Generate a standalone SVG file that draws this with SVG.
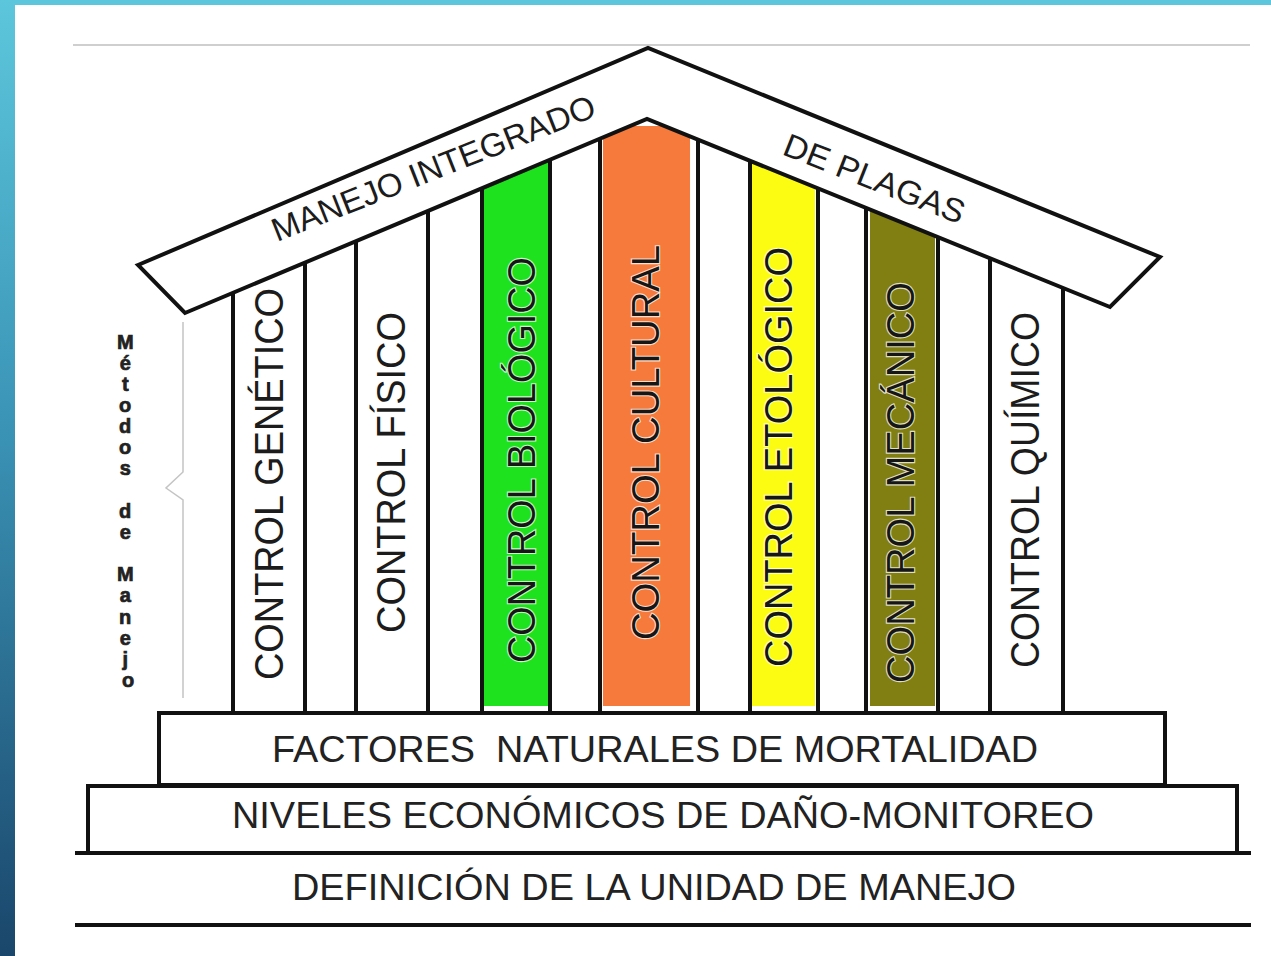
<svg xmlns="http://www.w3.org/2000/svg" width="1271" height="956" viewBox="0 0 1271 956">
  <defs>
    <linearGradient id="sideGrad" x1="0" y1="0" x2="0" y2="1">
      <stop offset="0" stop-color="#5cc6dc"/>
      <stop offset="0.45" stop-color="#3a93b5"/>
      <stop offset="1" stop-color="#1a466b"/>
    </linearGradient>
    <style>
      .ln { stroke: #111; stroke-width: 4; fill: none; }
      .box { stroke: #111; stroke-width: 4; fill: #fff; }
      .pt { font-family: "Liberation Sans", Arial, sans-serif; fill: #1c1c1c; }
      .pc { font-family: "Liberation Sans", Arial, sans-serif; fill: #161616; stroke: #ffffff; stroke-opacity: 0.75; stroke-width: 2.2; paint-order: stroke; }
      .bt { font-family: "Liberation Sans", Arial, sans-serif; fill: #222; font-size: 36px; white-space: pre; }
      .rt { font-family: "Liberation Sans", Arial, sans-serif; fill: #1c1c1c; font-size: 33px; }
      .mt { font-family: "Liberation Sans", Arial, sans-serif; font-weight: bold; fill: #222; stroke: #222; stroke-width: 0.7; font-size: 20px; }
    </style>
  </defs>

  <!-- background and frame -->
  <rect x="0" y="0" width="1271" height="956" fill="#ffffff"/>
  <rect x="0" y="0" width="1271" height="5" fill="#5cc6dc"/>
  <rect x="0" y="0" width="15" height="956" fill="url(#sideGrad)"/>
  <line x1="73" y1="45" x2="1250" y2="45" stroke="#cfcfcf" stroke-width="2"/>

  <!-- pillar fills -->
  <g id="pillar-fills">
    <polygon points="484,185 548,158 548,706 484,706" fill="#1fe21f"/>
    <rect x="603" y="126" width="87" height="580" fill="#f57a3b"/>
    <polygon points="752,160 815,186 815,706 752,706" fill="#fcfc12"/>
    <polygon points="870,208 935,234 935,706 870,706" fill="#817e12"/>
  </g>

  <!-- pillar lines -->
  <g id="pillar-lines" class="ln">
    <line x1="233" y1="290" x2="233" y2="713"/>
    <line x1="305" y1="260" x2="305" y2="713"/>
    <line x1="356" y1="239" x2="356" y2="713"/>
    <line x1="428" y1="209" x2="428" y2="713"/>
    <line x1="482" y1="186" x2="482" y2="713"/>
    <line x1="550" y1="157" x2="550" y2="713"/>
    <line x1="600" y1="136" x2="600" y2="713"/>
    <line x1="698" y1="137" x2="698" y2="713"/>
    <line x1="750" y1="158" x2="750" y2="713"/>
    <line x1="818" y1="186" x2="818" y2="713"/>
    <line x1="866" y1="205" x2="866" y2="713"/>
    <line x1="938" y1="235" x2="938" y2="713"/>
    <line x1="990" y1="256" x2="990" y2="713"/>
    <line x1="1063" y1="285" x2="1063" y2="713"/>
  </g>

  <!-- pillars (nodes) -->
  <g id="control-genetico">
    <text class="pt" font-size="40" transform="translate(283,680) rotate(-90)" textLength="392" lengthAdjust="spacingAndGlyphs">CONTROL GENÉTICO</text>
  </g>
  <g id="control-fisico">
    <text class="pt" font-size="40" transform="translate(405,633) rotate(-90)" textLength="321" lengthAdjust="spacingAndGlyphs">CONTROL FÍSICO</text>
  </g>
  <g id="control-biologico">
    <text class="pc" font-size="38" transform="translate(535,663) rotate(-90)" textLength="406" lengthAdjust="spacingAndGlyphs">CONTROL BIOLÓGICO</text>
  </g>
  <g id="control-cultural">
    <text class="pc" font-size="38" transform="translate(659,640) rotate(-90)" textLength="395" lengthAdjust="spacingAndGlyphs">CONTROL CULTURAL</text>
  </g>
  <g id="control-etologico">
    <text class="pc" font-size="38" transform="translate(792,667) rotate(-90)" textLength="420" lengthAdjust="spacingAndGlyphs">CONTROL ETOLÓGICO</text>
  </g>
  <g id="control-mecanico">
    <text class="pc" font-size="38" transform="translate(914,683) rotate(-90)" textLength="401" lengthAdjust="spacingAndGlyphs">CONTROL MECÁNICO</text>
  </g>
  <g id="control-quimico">
    <text class="pt" font-size="40" transform="translate(1039,668) rotate(-90)" textLength="356" lengthAdjust="spacingAndGlyphs">CONTROL QUÍMICO</text>
  </g>

  <!-- roof -->
  <g id="roof">
    <polygon points="138,265 648,48 1160,257 1110,307 647,119 185,313" fill="#ffffff" stroke="#111" stroke-width="4" stroke-linejoin="miter"/>
    <text class="rt" transform="translate(277,242) rotate(-21.5)" textLength="345" lengthAdjust="spacingAndGlyphs">MANEJO INTEGRADO</text>
    <text class="rt" transform="translate(781,154) rotate(21.5)" textLength="192" lengthAdjust="spacingAndGlyphs">DE PLAGAS</text>
  </g>

  <!-- base layers -->
  <g id="factores">
    <rect class="box" x="159" y="713" width="1006" height="72"/>
    <text class="bt" x="272" y="762" xml:space="preserve" textLength="766" lengthAdjust="spacingAndGlyphs">FACTORES  NATURALES DE MORTALIDAD</text>
  </g>
  <g id="niveles">
    <rect class="box" x="88" y="786" width="1149" height="67"/>
    <text class="bt" x="232" y="828" textLength="862" lengthAdjust="spacingAndGlyphs">NIVELES ECONÓMICOS DE DAÑO-MONITOREO</text>
  </g>
  <g id="definicion">
    <line class="ln" x1="75" y1="853" x2="1251" y2="853"/>
    <line class="ln" x1="75" y1="925" x2="1251" y2="925"/>
    <text class="bt" x="292" y="900" textLength="724" lengthAdjust="spacingAndGlyphs">DEFINICIÓN DE LA UNIDAD DE MANEJO</text>
  </g>

  <!-- side label with brace -->
  <g id="metodos-de-manejo">
    <polyline points="183,322 183,472 166,488 183,500 183,698" fill="none" stroke="#c4c4c4" stroke-width="1.5"/>
    <text class="mt" text-anchor="middle">
      <tspan x="128" y="349">M</tspan>
      <tspan x="128" y="370">é</tspan>
      <tspan x="128" y="391">t</tspan>
      <tspan x="128" y="412">o</tspan>
      <tspan x="128" y="433">d</tspan>
      <tspan x="128" y="454">o</tspan>
      <tspan x="128" y="475">s</tspan>
      <tspan x="128" y="518">d</tspan>
      <tspan x="128" y="539">e</tspan>
      <tspan x="128" y="581">M</tspan>
      <tspan x="128" y="602">a</tspan>
      <tspan x="128" y="624">n</tspan>
      <tspan x="128" y="645">e</tspan>
      <tspan x="128" y="666">j</tspan>
      <tspan x="128" y="687">o</tspan>
    </text>
  </g>
</svg>
